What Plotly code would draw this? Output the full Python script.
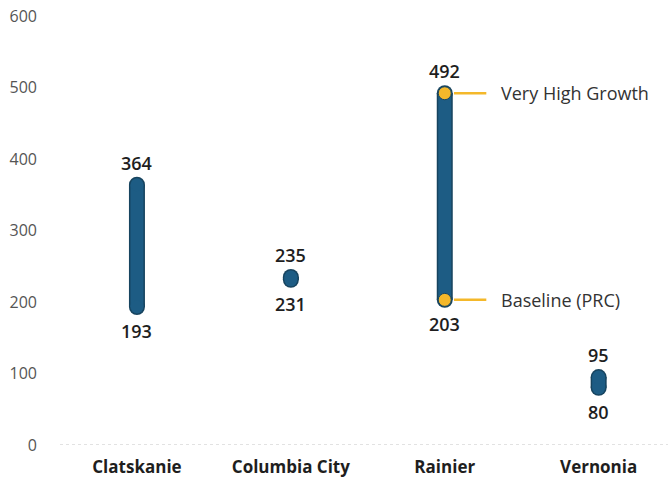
import plotly.graph_objects as go

# Projected range per city: low (Baseline PRC) and high (Very High Growth)
cities = ["Clatskanie", "Columbia City", "Rainier", "Vernonia"]
low_values = [193, 231, 203, 80]
high_values = [364, 235, 492, 95]
y_ticks = [0, 100, 200, 300, 400, 500, 600]

BAR = "#1d5c84"
EDGE = "#17445f"
GOLD = "#f4b82a"
TEXT = "#1e1e1e"
FONT = "Open Sans"

fig = go.Figure()

# dotted baseline along zero
fig.add_shape(type="line", xref="paper", yref="y", x0=0, x1=0.995, y0=0, y1=0,
              line=dict(color="#c4c4c4", width=1, dash="dot"), layer="below")

for i, city in enumerate(cities):
    lo, hi = low_values[i], high_values[i]
    # outline layer: thick line with round ends from markers
    fig.add_trace(go.Scatter(x=[city, city], y=[lo, hi], mode="lines+markers",
                             line=dict(color=EDGE, width=16),
                             marker=dict(size=16, color=EDGE),
                             hoverinfo="skip", showlegend=False))
    # fill layer
    fig.add_trace(go.Scatter(x=[city, city], y=[lo, hi], mode="lines+markers",
                             line=dict(color=BAR, width=13),
                             marker=dict(size=13, color=BAR),
                             hoverinfo="skip", showlegend=False))
    if city == "Rainier":
        fig.add_trace(go.Scatter(x=[city, city], y=[lo, hi], mode="markers",
                                 marker=dict(size=13, color=GOLD,
                                             line=dict(color=EDGE, width=1)),
                                 hoverinfo="skip", showlegend=False))
    # value labels above the high end and below the low end
    fig.add_annotation(x=city, y=hi, text=str(hi), showarrow=False, yshift=22,
                       font=dict(family=FONT, size=18, color=TEXT, weight=600))
    fig.add_annotation(x=city, y=lo, text=str(lo), showarrow=False, yshift=-24,
                       font=dict(family=FONT, size=18, color=TEXT, weight=600))

# Legend callouts on the Rainier range
ri = cities.index("Rainier")
for val, label in [(high_values[ri], "Very High Growth"), (low_values[ri], "Baseline (PRC)")]:
    fig.add_shape(type="line", xref="x", yref="y", x0=ri + 0.06, x1=ri + 0.27,
                  y0=val, y1=val, line=dict(color=GOLD, width=2.5), layer="below")
    fig.add_annotation(x=ri + 0.35, y=val, xref="x", yref="y", text=label,
                       showarrow=False, xanchor="left", yanchor="middle",
                       font=dict(family=FONT, size=18, color="#333333"))

fig.update_layout(
    width=671, height=480,
    margin=dict(l=60, r=0, t=16, b=35),
    paper_bgcolor="white", plot_bgcolor="white",
    xaxis=dict(type="category", categoryorder="array", categoryarray=cities,
               range=[-0.5, 3.47], showgrid=False, zeroline=False, showline=False,
               ticks="outside", ticklen=7, tickcolor="rgba(0,0,0,0)",
               tickfont=dict(family=FONT, size=17, color=TEXT, weight="bold")),
    yaxis=dict(range=[0, 600], tickvals=y_ticks, showgrid=False,
               zeroline=False, showline=False, ticks="", ticklabelstandoff=22,
               tickfont=dict(family=FONT, size=16, color="#555555")),
)

fig.write_html("out.html")
